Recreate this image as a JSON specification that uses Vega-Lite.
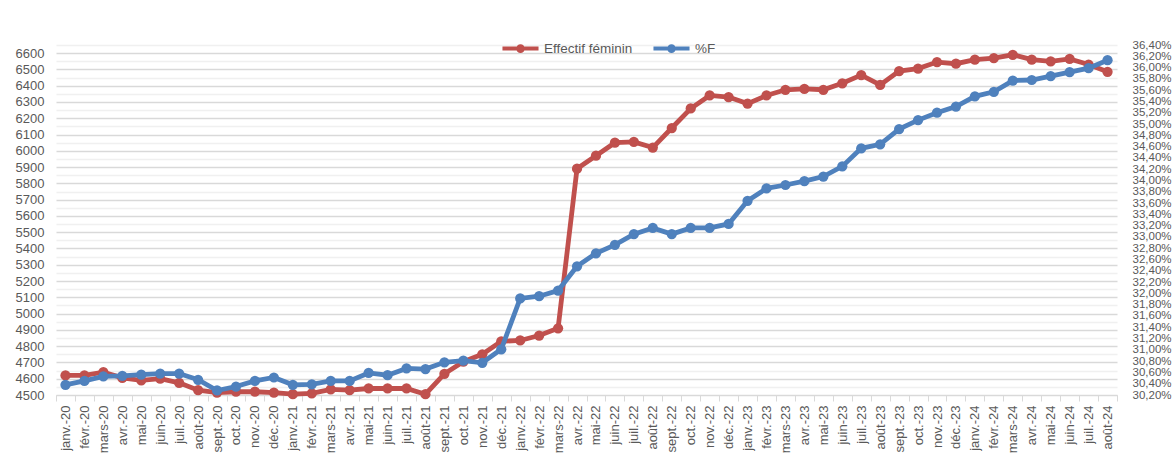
{
  "$schema": "https://vega.github.io/schema/vega-lite/v6.json",
  "autosize": {"type": "none"},
  "padding": {"left": 56, "top": 45, "right": 59, "bottom": 69},
  "width": 1061,
  "height": 350,
  "background": "white",
  "config": {
    "view": {"stroke": null},
    "font": "Liberation Sans",
    "axis": {"labelColor": "#595959", "labelFont": "Liberation Sans"}
  },
  "data": {
    "values": [
      {"mois": "janv.-20", "effectif": 4620, "pct": 30.38},
      {"mois": "févr.-20", "effectif": 4620, "pct": 30.45},
      {"mois": "mars-20", "effectif": 4640, "pct": 30.53},
      {"mois": "avr.-20", "effectif": 4605, "pct": 30.54},
      {"mois": "mai-20", "effectif": 4590, "pct": 30.56},
      {"mois": "juin-20", "effectif": 4600, "pct": 30.58},
      {"mois": "juil.-20", "effectif": 4575, "pct": 30.58},
      {"mois": "août-20", "effectif": 4530, "pct": 30.47},
      {"mois": "sept.-20", "effectif": 4515, "pct": 30.28},
      {"mois": "oct.-20", "effectif": 4520, "pct": 30.35},
      {"mois": "nov.-20", "effectif": 4520, "pct": 30.45},
      {"mois": "déc.-20", "effectif": 4515, "pct": 30.51},
      {"mois": "janv.-21", "effectif": 4505, "pct": 30.38},
      {"mois": "févr.-21", "effectif": 4510, "pct": 30.39},
      {"mois": "mars-21", "effectif": 4535, "pct": 30.45},
      {"mois": "avr.-21", "effectif": 4530, "pct": 30.45},
      {"mois": "mai-21", "effectif": 4540, "pct": 30.59},
      {"mois": "juin-21", "effectif": 4540, "pct": 30.55},
      {"mois": "juil.-21", "effectif": 4540, "pct": 30.67},
      {"mois": "août-21", "effectif": 4505, "pct": 30.66},
      {"mois": "sept.-21", "effectif": 4630, "pct": 30.78},
      {"mois": "oct.-21", "effectif": 4705, "pct": 30.81},
      {"mois": "nov.-21", "effectif": 4750, "pct": 30.77},
      {"mois": "déc.-21", "effectif": 4830, "pct": 31.01},
      {"mois": "janv.-22", "effectif": 4835, "pct": 31.91},
      {"mois": "févr.-22", "effectif": 4865, "pct": 31.95},
      {"mois": "mars-22", "effectif": 4910, "pct": 32.05},
      {"mois": "avr.-22", "effectif": 5890, "pct": 32.48},
      {"mois": "mai-22", "effectif": 5970, "pct": 32.71},
      {"mois": "juin-22", "effectif": 6050, "pct": 32.86},
      {"mois": "juil.-22", "effectif": 6055, "pct": 33.05},
      {"mois": "août-22", "effectif": 6020, "pct": 33.16},
      {"mois": "sept.-22", "effectif": 6140, "pct": 33.05},
      {"mois": "oct.-22", "effectif": 6260, "pct": 33.16},
      {"mois": "nov.-22", "effectif": 6340, "pct": 33.16},
      {"mois": "déc.-22", "effectif": 6330, "pct": 33.23},
      {"mois": "janv.-23", "effectif": 6290, "pct": 33.64},
      {"mois": "févr.-23", "effectif": 6340, "pct": 33.86},
      {"mois": "mars-23", "effectif": 6375, "pct": 33.92},
      {"mois": "avr.-23", "effectif": 6380, "pct": 33.99},
      {"mois": "mai-23", "effectif": 6375, "pct": 34.07},
      {"mois": "juin-23", "effectif": 6415, "pct": 34.25},
      {"mois": "juil.-23", "effectif": 6465, "pct": 34.57},
      {"mois": "août-23", "effectif": 6405, "pct": 34.64},
      {"mois": "sept.-23", "effectif": 6490, "pct": 34.91},
      {"mois": "oct.-23", "effectif": 6505, "pct": 35.07},
      {"mois": "nov.-23", "effectif": 6545, "pct": 35.20},
      {"mois": "déc.-23", "effectif": 6535, "pct": 35.31},
      {"mois": "janv.-24", "effectif": 6560, "pct": 35.49},
      {"mois": "févr.-24", "effectif": 6570, "pct": 35.57},
      {"mois": "mars-24", "effectif": 6590, "pct": 35.77},
      {"mois": "avr.-24", "effectif": 6560, "pct": 35.78},
      {"mois": "mai-24", "effectif": 6550, "pct": 35.85},
      {"mois": "juin-24", "effectif": 6565, "pct": 35.92},
      {"mois": "juil.-24", "effectif": 6530, "pct": 35.99},
      {"mois": "août-24", "effectif": 6485, "pct": 36.13}
    ]
  },
  "encoding": {
    "x": {
      "field": "mois",
      "type": "nominal",
      "sort": null,
      "bandPosition": 0.5,
      "scale": {"type": "band", "paddingInner": 0, "paddingOuter": 0},
      "axis": {
        "title": null,
        "labelAngle": -90,
        "labelFontSize": 13,
        "labelPadding": 4,
        "tickBand": "extent",
        "tickColor": "#d9d9d9",
        "tickSize": 6,
        "domainColor": "#d9d9d9",
        "grid": false,
        "labelOverlap": false
      }
    }
  },
  "layer": [
    {
      "mark": {"type": "line", "strokeWidth": 4.8, "point": {"filled": true, "size": 105, "opacity": 1}},
      "encoding": {
        "y": {
          "field": "effectif",
          "type": "quantitative",
          "scale": {"domain": [4500, 6650], "nice": false, "zero": false},
          "axis": {
            "title": null,
            "orient": "left",
            "values": [4500, 4550, 4600, 4650, 4700, 4750, 4800, 4850, 4900, 4950, 5000, 5050, 5100, 5150, 5200, 5250, 5300, 5350, 5400, 5450, 5500, 5550, 5600, 5650, 5700, 5750, 5800, 5850, 5900, 5950, 6000, 6050, 6100, 6150, 6200, 6250, 6300, 6350, 6400, 6450, 6500, 6550, 6600, 6650],
            "format": "d",
            "labelExpr": "datum.value % 100 === 0 ? datum.label : ''",
            "labelFontSize": 13,
            "labelPadding": 12,
            "labelOverlap": false,
            "domain": false,
            "ticks": false,
            "grid": true,
            "gridColor": {"condition": {"test": "datum.value % 100 === 0", "value": "#d9d9d9"}, "value": "#f0f0f0"},
            "gridWidth": 1.3
          }
        },
        "color": {
          "datum": "Effectif féminin",
          "type": "nominal",
          "scale": {"domain": ["Effectif féminin", "%F"], "range": ["#C0504D", "#4F81BD"]},
          "legend": {
            "title": null,
            "orient": "none",
            "direction": "horizontal",
            "legendX": 444,
            "legendY": -17,
            "symbolType": "M-1,0L1,0M0.13,0A0.13,0.13 0 1,1 -0.13,0A0.13,0.13 0 1,1 0.13,0Z",
            "symbolSize": 1300,
            "symbolStrokeWidth": 4,
            "labelFontSize": 13.5,
            "labelColor": "#595959",
            "labelOffset": 3,
            "columnPadding": 12,
            "encode": {
              "symbols": {
                "update": {
                  "fill": {"scale": "color", "field": "value"},
                  "stroke": {"scale": "color", "field": "value"},
                  "opacity": {"value": 1}
                }
              }
            }
          }
        }
      }
    },
    {
      "mark": {"type": "line", "strokeWidth": 4.8, "point": {"filled": true, "size": 105, "opacity": 1}},
      "encoding": {
        "y": {
          "field": "pct",
          "type": "quantitative",
          "scale": {"domain": [30.2, 36.4], "nice": false, "zero": false},
          "axis": {
            "title": null,
            "orient": "right",
            "values": [30.2, 30.4, 30.6, 30.8, 31.0, 31.2, 31.4, 31.6, 31.8, 32.0, 32.2, 32.4, 32.6, 32.8, 33.0, 33.2, 33.4, 33.6, 33.8, 34.0, 34.2, 34.4, 34.6, 34.8, 35.0, 35.2, 35.4, 35.6, 35.8, 36.0, 36.2, 36.4],
            "labelExpr": "replace(format(datum.value, '.2f'), '.', ',') + '%'",
            "labelFont": "Liberation Sans Narrow, Liberation Sans, sans-serif",
            "labelFontSize": 11.5,
            "labelPadding": 15,
            "labelOverlap": false,
            "labelBound": false,
            "domain": false,
            "ticks": false,
            "grid": false
          }
        },
        "color": {"datum": "%F", "type": "nominal"}
      }
    }
  ],
  "resolve": {"scale": {"y": "independent"}}
}
